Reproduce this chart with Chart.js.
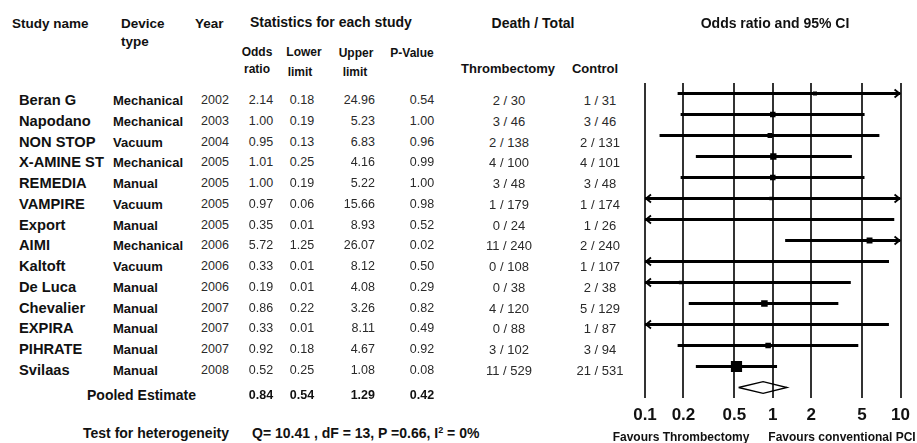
<!DOCTYPE html>
<html>
<head>
<meta charset="utf-8">
<script src="https://cdn.jsdelivr.net/npm/chart.js@4/dist/chart.umd.min.js"></script>
<style>
  html, body { margin: 0; padding: 0; background: #fff; }
  body { width: 917px; height: 443px; position: relative; overflow: hidden;
         font-family: "Liberation Sans", Arial, Helvetica, sans-serif; }
  .t { position: absolute; white-space: nowrap; line-height: 1; color: #2a2a2a; }
  .b { font-weight: bold; color: #111; }
  #plotWrap { position: absolute; left: 620px; top: 0; width: 297px; height: 443px; }
  sup { font-size: 0.65em; vertical-align: 0; position: relative; top: -0.5em; }
</style>
</head>
<body>
<div id="plotWrap"><canvas id="c"></canvas></div>
<script>
// ---------- data ----------
const studies = ['Beran G', 'Napodano', 'NON STOP', 'X-AMINE ST', 'REMEDIA', 'VAMPIRE', 'Export',
                 'AIMI', 'Kaltoft', 'De Luca', 'Chevalier', 'EXPIRA', 'PIHRATE', 'Svilaas'];
const deviceType = ['Mechanical', 'Mechanical', 'Vacuum', 'Mechanical', 'Manual', 'Vacuum', 'Manual',
                    'Mechanical', 'Vacuum', 'Manual', 'Manual', 'Manual', 'Manual', 'Manual'];
const years = [2002, 2003, 2004, 2005, 2005, 2005, 2005, 2006, 2006, 2006, 2007, 2007, 2007, 2008];
const oddsRatio = [2.14, 1.00, 0.95, 1.01, 1.00, 0.97, 0.35, 5.72, 0.33, 0.19, 0.86, 0.33, 0.92, 0.52];
const lowerLimit = [0.18, 0.19, 0.13, 0.25, 0.19, 0.06, 0.01, 1.25, 0.01, 0.01, 0.22, 0.01, 0.18, 0.25];
const upperLimit = [24.96, 5.23, 6.83, 4.16, 5.22, 15.66, 8.93, 26.07, 8.12, 4.08, 3.26, 8.11, 4.67, 1.08];
const pValue = [0.54, 1.00, 0.96, 0.99, 1.00, 0.98, 0.52, 0.02, 0.50, 0.29, 0.82, 0.49, 0.92, 0.08];
const deathThrombectomy = ['2 / 30', '3 / 46', '2 / 138', '4 / 100', '3 / 48', '1 / 179', '0 / 24',
                           '11 / 240', '0 / 108', '0 / 38', '4 / 120', '0 / 88', '3 / 102', '11 / 529'];
const deathControl = ['1 / 31', '3 / 46', '2 / 131', '4 / 101', '3 / 48', '1 / 174', '1 / 26',
                      '2 / 240', '1 / 107', '2 / 38', '5 / 129', '1 / 87', '3 / 94', '21 / 531'];
const pooledOR = 0.84, pooledLower = 0.54, pooledUpper = 1.29, pooledP = 0.42;
const axisTicks = [0.1, 0.2, 0.5, 1, 2, 5, 10];
const heterogeneity = { Q: '10.41', dF: '13', P: '0.66', I2: '0%' };

// ---------- text table (HTML) ----------
function place(html, x, y, opt) {
  opt = opt || {};
  const d = document.createElement('div');
  d.className = 't' + (opt.bold ? ' b' : '');
  d.innerHTML = html;
  d.style.fontSize = (opt.size || 13) + 'px';
  d.style.top = y + 'px';
  const align = opt.align || 'left';
  if (align === 'left') { d.style.left = x + 'px'; d.style.transform = 'translateY(-50%)'; }
  else if (align === 'center') { d.style.left = x + 'px'; d.style.transform = 'translate(-50%,-50%)'; }
  else { d.style.right = (917 - x) + 'px'; d.style.transform = 'translateY(-50%)'; }
  document.body.appendChild(d);
}

// headers
place('Study name', 12, 24, { bold: true, size: 13.5 });
place('Device', 121, 24, { bold: true, size: 13.5 });
place('type', 121, 42, { bold: true, size: 13.5 });
place('Year', 195, 24, { bold: true, size: 13.5 });
place('Statistics for each study', 250, 22, { bold: true, size: 14 });
place('Odds', 257, 52, { bold: true, size: 12, align: 'center' });
place('ratio', 257, 69, { bold: true, size: 12, align: 'center' });
place('Lower', 304, 52, { bold: true, size: 12, align: 'center' });
place('limit', 300, 72, { bold: true, size: 12, align: 'center' });
place('Upper', 356, 53, { bold: true, size: 12, align: 'center' });
place('limit', 355, 72, { bold: true, size: 12, align: 'center' });
place('P-Value', 412, 53, { bold: true, size: 12, align: 'center' });
place('Death / Total', 533, 23, { bold: true, size: 14, align: 'center' });
place('Odds ratio and 95% CI', 775, 23, { bold: true, size: 14, align: 'center' });
place('Thrombectomy', 508, 68, { bold: true, size: 13, align: 'center' });
place('Control', 595, 68, { bold: true, size: 13, align: 'center' });

// rows
const rowTop = 100, rowStep = 20.77;
studies.forEach((s, i) => {
  const y = rowTop + rowStep * i;
  place(s, 19, y, { bold: true, size: 14.7 });
  place(deviceType[i], 113, y, { bold: true, size: 13 });
  place(String(years[i]), 215, y, { size: 12.5, align: 'center' });
  place(oddsRatio[i].toFixed(2), 261, y, { size: 12.5, align: 'center' });
  place(lowerLimit[i].toFixed(2), 302, y, { size: 12.5, align: 'center' });
  place(upperLimit[i].toFixed(2), 375, y, { size: 12.5, align: 'right' });
  place(pValue[i].toFixed(2), 422, y, { size: 12.5, align: 'center' });
  place(deathThrombectomy[i], 509, y, { size: 13, align: 'center' });
  place(deathControl[i], 600, y, { size: 13, align: 'center' });
});
place('Pooled Estimate', 87, 395, { bold: true, size: 14 });
place(pooledOR.toFixed(2), 261, 395, { bold: true, size: 12.5, align: 'center' });
place(pooledLower.toFixed(2), 302, 395, { bold: true, size: 12.5, align: 'center' });
place(pooledUpper.toFixed(2), 375, 395, { bold: true, size: 12.5, align: 'right' });
place(pooledP.toFixed(2), 422, 395, { bold: true, size: 12.5, align: 'center' });

place('Test for heterogeneity', 83, 433, { bold: true, size: 14 });
place('Q= ' + heterogeneity.Q + ' , dF = ' + heterogeneity.dF + ', P =' + heterogeneity.P +
      ', I<sup>2</sup> = ' + heterogeneity.I2, 252, 433, { bold: true, size: 14 });

place('Favours Thrombectomy', 681, 437, { bold: true, size: 12, align: 'center' });
place('Favours conventional PCI', 842, 437, { bold: true, size: 12, align: 'center' });

// ---------- forest plot (Chart.js) ----------
const xMin = axisTicks[0], xMax = axisTicks[axisTicks.length - 1];
const clamp = v => Math.min(xMax, Math.max(xMin, v));

// study weight from CI width (inverse variance) -> square side grows with sqrt(weight)
const squareRadius = studies.map((s, i) => {
  const se = (Math.log(upperLimit[i]) - Math.log(lowerLimit[i])) / (2 * 1.96);
  const side = 3.8 * Math.sqrt(1 / (se * se)) + 1;
  return side / Math.SQRT2;
});

const datasets = [];
studies.forEach((s, i) => {
  datasets.push({
    label: s,
    showLine: true,
    data: [{ x: clamp(lowerLimit[i]), y: i }, { x: clamp(upperLimit[i]), y: i }],
    borderColor: '#000', borderWidth: 3, pointRadius: 0, borderCapStyle: 'butt'
  });
});
datasets.push({
  label: 'Odds ratio',
  data: oddsRatio.map((v, i) => ({ x: v, y: i })),
  pointStyle: 'rect', pointRadius: squareRadius,
  backgroundColor: '#000', borderColor: '#000', borderWidth: 0
});
const pooledRow = studies.length, dh = 0.28;
datasets.push({
  label: 'Pooled Estimate',
  showLine: true,
  data: [{ x: pooledLower, y: pooledRow }, { x: pooledOR, y: pooledRow - dh },
         { x: pooledUpper, y: pooledRow }, { x: pooledOR, y: pooledRow + dh },
         { x: pooledLower, y: pooledRow }],
  borderColor: '#000', borderWidth: 1.4, pointRadius: 0, fill: false, tension: 0
});

const arrowPlugin = {
  id: 'arrows',
  afterDatasetsDraw(chart) {
    const xs = chart.scales.x, ys = chart.scales.y, ctx = chart.ctx;
    ctx.save();
    ctx.strokeStyle = '#000';
    ctx.lineWidth = 1.8;
    studies.forEach((s, i) => {
      const y = ys.getPixelForValue(i);
      if (lowerLimit[i] < xMin) {
        const x = xs.getPixelForValue(xMin);
        ctx.beginPath(); ctx.moveTo(x + 6, y - 4); ctx.lineTo(x + 1, y); ctx.lineTo(x + 6, y + 4); ctx.stroke();
      }
      if (upperLimit[i] > xMax) {
        const x = xs.getPixelForValue(xMax);
        ctx.beginPath(); ctx.moveTo(x - 6, y - 4); ctx.lineTo(x - 1, y); ctx.lineTo(x - 6, y + 4); ctx.stroke();
      }
    });
    ctx.restore();
  }
};

new Chart(document.getElementById('c'), {
  type: 'scatter',
  data: { datasets },
  options: {
    responsive: true, maintainAspectRatio: false, animation: false,
    layout: { padding: { left: 25, right: 11, top: 83, bottom: 0 } },
    plugins: { legend: { display: false }, tooltip: { enabled: false } },
    scales: {
      x: {
        type: 'logarithmic', min: xMin, max: xMax,
        afterBuildTicks: (scale) => { scale.ticks = axisTicks.map(v => ({ value: v })); },
        afterFit: (scale) => { scale.height = 45; },
        ticks: {
          autoSkip: false, maxRotation: 0, padding: 7, color: '#111',
          font: { family: '"Liberation Sans", Arial, sans-serif', size: 17, weight: 'bold' },
          callback: (v) => String(v)
        },
        grid: { color: '#333', lineWidth: 2, drawTicks: false },
        border: { display: false }
      },
      y: {
        type: 'linear', reverse: true, min: -0.5, max: studies.length + 0.5,
        display: false
      }
    }
  },
  plugins: [arrowPlugin]
});
</script>
</body>
</html>
